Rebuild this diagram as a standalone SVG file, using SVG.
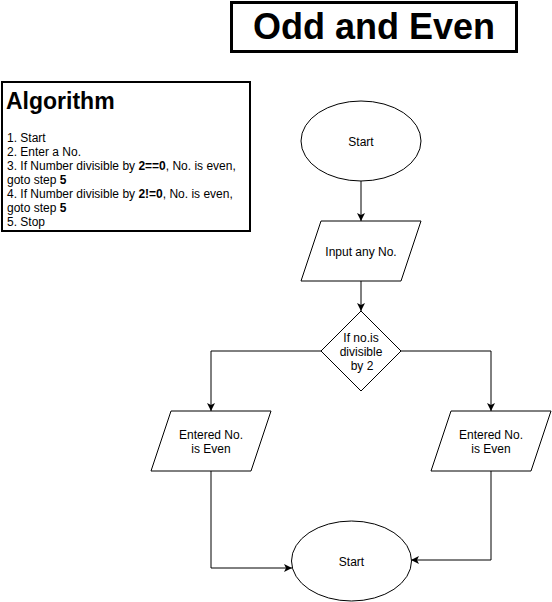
<svg xmlns="http://www.w3.org/2000/svg" width="552" height="602" viewBox="0 0 552 602">
<style>
.shape{fill:#fff;stroke:#000;stroke-width:1}
.edge{fill:none;stroke:#000;stroke-width:1}
.t{font-family:"Liberation Sans",Arial,Helvetica,sans-serif;font-size:12px;fill:#000;text-anchor:middle}
.alg{font-family:"Liberation Sans",Arial,Helvetica,sans-serif;font-size:12px;fill:#000}
</style>
<defs>
<marker id="arr" markerUnits="userSpaceOnUse" markerWidth="10" markerHeight="10" refX="8" refY="4" orient="auto" viewBox="0 0 10 8">
<path d="M0,0 L8,4 L0,8 L2,4 Z" fill="#000"/>
</marker>
</defs>
<rect width="552" height="602" fill="#fff"/>
<g id="title">
<rect x="231.5" y="2.5" width="285" height="49" fill="#fff" stroke="#000" stroke-width="3"/>
<text x="374" y="39" font-family="'Liberation Sans',Arial,sans-serif" font-size="36" font-weight="bold" text-anchor="middle" fill="#000">Odd and Even</text>
</g>
<g id="algorithm">
<rect x="2" y="82" width="248" height="149" fill="#fff" stroke="#000" stroke-width="2"/>
<text x="6" y="108.5" font-family="'Liberation Sans',Arial,sans-serif" font-size="23" font-weight="bold" fill="#000">Algorithm</text>
<text class="alg" x="7" y="141.5">1. Start</text>
<text class="alg" x="7" y="155.6">2. Enter a No.</text>
<text class="alg" x="7" y="169.7">3. If Number divisible by <tspan font-weight="bold">2==0</tspan>, No. is even,</text>
<text class="alg" x="7" y="183.8">goto step <tspan font-weight="bold">5</tspan></text>
<text class="alg" x="7" y="197.9">4. If Number divisible by <tspan font-weight="bold">2!=0</tspan>, No. is even,</text>
<text class="alg" x="7" y="212">goto step <tspan font-weight="bold">5</tspan></text>
<text class="alg" x="7" y="226">5. Stop</text>
</g>
<g id="connectors">
<path class="edge" d="M361,181 L361,221" marker-end="url(#arr)"/>
<path class="edge" d="M361,281 L361,311" marker-end="url(#arr)"/>
<path class="edge" d="M321,351 L211,351 L211,411" marker-end="url(#arr)"/>
<path class="edge" d="M401,351 L491,351 L491,411" marker-end="url(#arr)"/>
<path class="edge" d="M211,471 L211,568 L292,568" marker-end="url(#arr)"/>
<path class="edge" d="M491,471 L491,560 L411,560" marker-end="url(#arr)"/>
</g>
<g id="start">
<ellipse class="shape" cx="361" cy="141" rx="60" ry="40"/>
<text class="t" x="361" y="145.5">Start</text>
</g>
<g id="input">
<polygon class="shape" points="321,221 421,221 401,281 301,281"/>
<text class="t" x="361" y="255.5">Input any No.</text>
</g>
<g id="decision">
<polygon class="shape" points="361,311 401,351 361,391 321,351"/>
<text class="t" x="361" y="342">If no.is</text>
<text class="t" x="361" y="356">divisible</text>
<text class="t" x="362" y="370">by 2</text>
</g>
<g id="even-left">
<polygon class="shape" points="171,411 271,411 251,471 151,471"/>
<text class="t" x="211" y="438.5">Entered No.</text>
<text class="t" x="211" y="452.5">is Even</text>
</g>
<g id="even-right">
<polygon class="shape" points="451,411 551,411 531,471 431,471"/>
<text class="t" x="491" y="438.5">Entered No.</text>
<text class="t" x="491" y="452.5">is Even</text>
</g>
<g id="stop">
<ellipse class="shape" cx="351.5" cy="561" rx="60" ry="40"/>
<text class="t" x="351.5" y="565.5">Start</text>
</g>
</svg>
